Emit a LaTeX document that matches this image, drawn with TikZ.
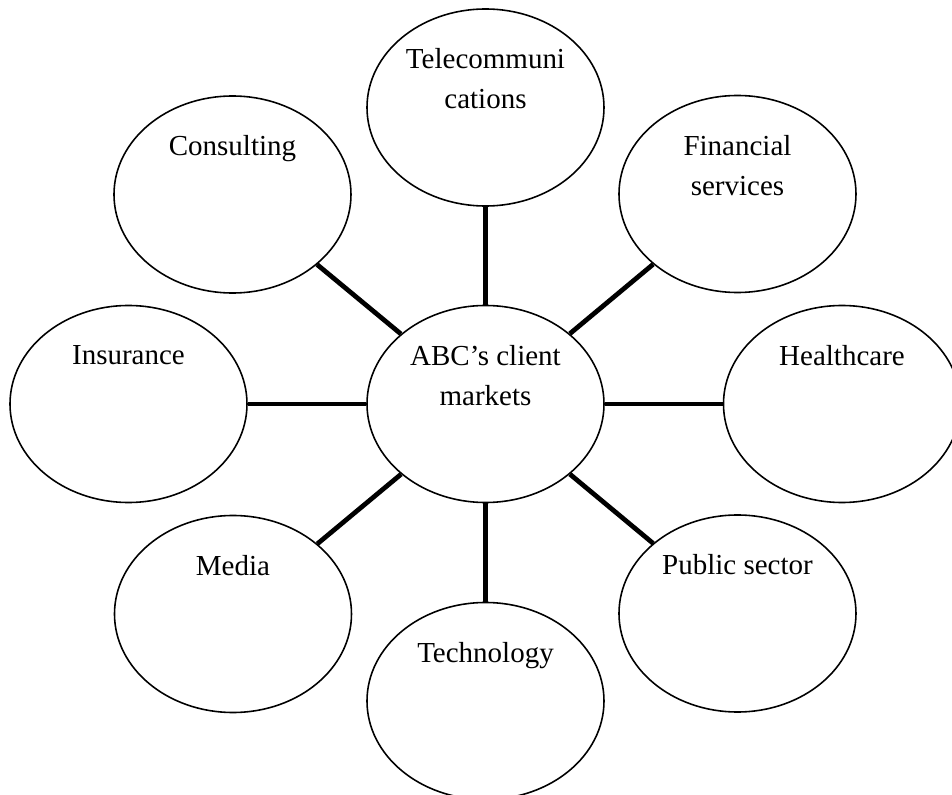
\documentclass[tikz,border=0pt]{standalone}
\usepackage{fontspec}
\setmainfont{Liberation Serif}
\usetikzlibrary{positioning,shapes.geometric}

\begin{document}
\begin{tikzpicture}[on grid, line width=0.9pt,
        main/.style = {draw, ellipse, minimum width=4.74cm, minimum height=3.94cm},
        tag/.style = {yshift=3.18cm, inner sep=0pt, align=center,
                      font=\fontsize{16.5}{22.8}\selectfont},
        link/.style = {line width=2.7pt}]
            \useasboundingbox (-9.71,-7.82) rectangle (9.33,8.08);

            \node[main, label={[tag]below:ABC’s client\\markets}] (1) {};
            \node[main, label={[tag]below:Telecommuni\\cations}] (2) [above=5.93cm of 1] {};
            \node[main, label={[tag]below:Financial\\services}] (3) [above right=4.2cm and 5.04cm of 1] {};
            \node[main, label={[tag]below:Healthcare}] (4) [right=7.13cm of 1] {};
            \node[main, label={[tag]below:Public sector}] (5) [below right=4.19cm and 5.04cm of 1] {};
            \node[main, label={[tag]below:Technology}] (6) [below=5.94cm of 1] {};
            \node[main, label={[tag]below:Media}] (7) [below left=4.2cm and 5.05cm of 1] {};
            \node[main, label={[tag]below:Insurance}] (8) [left=7.14cm of 1] {};
            \node[main, label={[tag]below:Consulting}] (9) [above left=4.19cm and 5.06cm of 1] {};

            \draw[link] (1) to (2);
            \draw[link] (1) to (3);
            \draw[link] (1) to (4);
            \draw[link] (1) to (5);
            \draw[link] (1) to (6);
            \draw[link] (1) to (7);
            \draw[link] (1) to (8);
            \draw[link] (1) to (9);
        \end{tikzpicture}
\end{document}
